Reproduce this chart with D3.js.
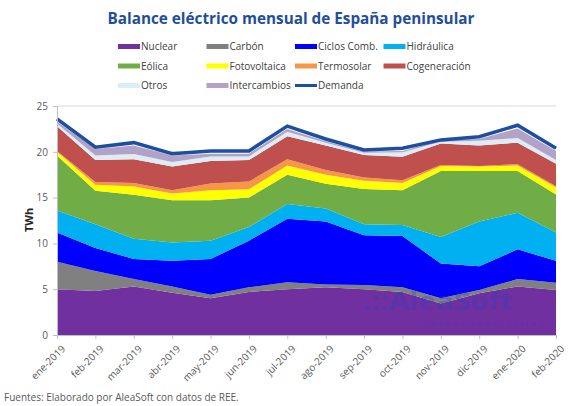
<html>
<head>
<meta charset="utf-8">
<script src="https://cdn.jsdelivr.net/npm/d3@7"></script>
<title>Balance eléctrico mensual</title>
<style>
  body { margin: 0; background: #fff; }
  text { font-family: "Open Sans", "Liberation Sans", sans-serif; }
</style>
</head>
<body>
<div class="viz"></div>
<script type="text/javascript">
// months on the x axis
var months = ["ene-2019", "feb-2019", "mar-2019", "abr-2019", "may-2019", "jun-2019", "jul-2019",
              "ago-2019", "sep-2019", "oct-2019", "nov-2019", "dic-2019", "ene-2020", "feb-2020"];

// monthly values, TWh
var nuclear      = [5.0, 4.8, 5.3, 4.6, 4.0, 4.7, 5.0, 5.2, 5.0, 4.7, 3.45, 4.55, 5.3, 4.9];
var carbon       = [3.0, 2.2, 0.8, 0.7, 0.4, 0.5, 0.75, 0.3, 0.45, 0.5, 0.55, 0.35, 0.8, 0.8];
var ciclos       = [3.2, 2.5, 2.2, 2.8, 3.9, 5.1, 6.95, 6.9, 5.45, 5.6, 3.8, 2.6, 3.25, 2.4];
var hidraulica   = [2.4, 2.6, 2.2, 2.0, 2.0, 1.5, 1.6, 1.4, 1.2, 1.2, 2.9, 4.9, 4.0, 3.1];
var eolica       = [6.0, 3.65, 4.8, 4.6, 4.4, 3.2, 3.2, 2.7, 3.85, 3.8, 7.2, 5.5, 4.55, 4.15];
var fotovoltaica = [0.4, 0.65, 0.9, 0.75, 1.1, 0.9, 1.0, 1.0, 0.9, 0.8, 0.55, 0.5, 0.6, 0.75];
var termosolar   = [0.1, 0.3, 0.4, 0.35, 0.75, 0.85, 0.7, 0.5, 0.35, 0.3, 0.1, 0.05, 0.15, 0.15];
var cogeneracion = [2.7, 2.4, 2.6, 2.6, 2.45, 2.35, 2.5, 2.7, 2.45, 2.55, 2.35, 2.25, 2.35, 2.45];
var otros        = [0.3, 0.5, 0.55, 0.5, 0.5, 0.4, 0.5, 0.3, 0.25, 0.5, 0.2, 0.5, 0.5, 0.4];
var intercambios = [0.2, 0.7, 0.95, 0.7, 0.3, 0.3, 0.3, 0.15, 0.1, 0.15, 0.15, 0.2, 1.05, 1.0];
var demanda      = [23.6, 20.5, 21.0, 19.8, 20.1, 20.1, 22.8, 21.4, 20.2, 20.4, 21.3, 21.65, 22.9, 20.4];

var yTicks = [0, 5, 10, 15, 20, 25];

var seriesNames = ["Nuclear", "Carbón", "Ciclos Comb.", "Hidráulica", "Eólica", "Fotovoltaica",
                   "Termosolar", "Cogeneración", "Otros", "Intercambios"];
var seriesData = [nuclear, carbon, ciclos, hidraulica, eolica, fotovoltaica,
                  termosolar, cogeneracion, otros, intercambios];
var colors = ["#7030a0", "#808080", "#0000ff", "#00b0f0", "#70ad47", "#ffff00",
              "#f79646", "#c0504d", "#dcedf5", "#b3a2c7"];
var demandColor = "#1c4f9f";

var vizWidth = 574, vizHeight = 406;
var plotLeft = 57, plotRight = 556, plotTop = 106, plotBottom = 335;

var svg = d3.select("div")
    .append("svg")
    .attr("width", vizWidth)
    .attr("height", vizHeight);

// build row objects for d3.stack
var rows = months.map(function(m, i) {
    var r = {month: m};
    seriesNames.forEach(function(s, j) { r[s] = seriesData[j][i]; });
    return r;
});

var stacked = d3.stack().keys(seriesNames)(rows);

var x = d3.scalePoint().domain(months).range([plotLeft, plotRight]);
var y = d3.scaleLinear().domain([0, 25]).range([plotBottom, plotTop]);

// grid
svg.append("g").selectAll("line")
    .data(yTicks.slice(1))
    .enter().append("line")
    .attr("x1", plotLeft).attr("x2", plotRight)
    .attr("y1", function(d) { return y(d); })
    .attr("y2", function(d) { return y(d); })
    .attr("stroke", "#d9d9d9");

var area = d3.area()
    .x(function(d) { return x(d.data.month); })
    .y0(function(d) { return y(d[0]); })
    .y1(function(d) { return y(d[1]); });

svg.append("g").selectAll("path")
    .data(stacked)
    .enter().append("path")
    .attr("d", area)
    .attr("fill", function(d, i) { return colors[i]; });

// watermark
var wm = svg.append("g").attr("opacity", 0.3);
wm.append("text")
    .attr("x", 363).attr("y", 310)
    .attr("font-size", 25).attr("font-weight", "bold")
    .attr("fill", "#2b3fc4")
    .attr("textLength", 150).attr("lengthAdjust", "spacingAndGlyphs")
    .text(".::AleaSoft");
wm.append("text")
    .attr("x", 424).attr("y", 327)
    .attr("font-size", 7.5)
    .attr("fill", "#2b3fc4")
    .attr("textLength", 120).attr("lengthAdjust", "spacing")
    .text("ENERGY FORECASTING");

// demand line
var line = d3.line()
    .x(function(d, i) { return x(months[i]); })
    .y(function(d) { return y(d); });

svg.append("path")
    .datum(demanda)
    .attr("d", line)
    .attr("fill", "none")
    .attr("stroke", demandColor)
    .attr("stroke-width", 3.5)
    .attr("stroke-linejoin", "miter");

// axes
var yAxis = svg.append("g")
    .attr("transform", "translate(" + plotLeft + ",0)")
    .call(d3.axisLeft(y).tickValues(yTicks).tickSize(4).tickPadding(5));
yAxis.select(".domain").attr("stroke", "#bfbfbf");
yAxis.selectAll(".tick line").attr("stroke", "#bfbfbf");
yAxis.selectAll(".tick text").attr("font-size", 10).attr("fill", "#595959")
    .attr("font-family", "'Open Sans', sans-serif");

var xAxis = svg.append("g")
    .attr("transform", "translate(0," + plotBottom + ")")
    .call(d3.axisBottom(x).tickSize(4).tickSizeOuter(0));
xAxis.select(".domain").attr("stroke", "#bfbfbf");
xAxis.selectAll(".tick line").attr("stroke", "#bfbfbf");
xAxis.selectAll(".tick text")
    .attr("font-size", 10)
    .attr("fill", "#595959")
    .attr("font-family", "'Open Sans', sans-serif")
    .attr("text-anchor", "end")
    .attr("x", 0).attr("y", 0).attr("dy", "0.35em")
    .attr("transform", "translate(6,12) rotate(-45)");

svg.append("text")
    .attr("transform", "translate(33,220) rotate(-90)")
    .attr("text-anchor", "middle")
    .attr("font-size", 11).attr("font-weight", "bold")
    .attr("fill", "#262626")
    .text("TWh");

// title
svg.append("text")
    .attr("x", 291).attr("y", 24)
    .attr("text-anchor", "middle")
    .attr("font-size", 16).attr("font-weight", "bold")
    .attr("fill", "#1f4e9c")
    .attr("textLength", 367).attr("lengthAdjust", "spacingAndGlyphs")
    .text("Balance eléctrico mensual de España peninsular");

// legend
var legendItems = seriesNames.concat(["Demanda"]);
var legend = svg.append("g").selectAll("g")
    .data(legendItems)
    .enter().append("g")
    .attr("transform", function(d, i) {
        return "translate(" + (118 + (i % 4) * 88.5) + "," + (46.5 + Math.floor(i / 4) * 19.5) + ")";
    });

legend.append("rect")
    .attr("x", 0).attr("y", function(d) { return d == "Demanda" ? -1.5 : -2.5; })
    .attr("width", 22)
    .attr("height", function(d) { return d == "Demanda" ? 3 : 5; })
    .attr("fill", function(d, i) { return i < colors.length ? colors[i] : demandColor; });

legend.append("text")
    .attr("x", 23).attr("y", 0).attr("dy", "0.35em")
    .attr("font-size", 10).attr("fill", "#404040")
    .text(function(d) { return d; });

// source
svg.append("text")
    .attr("x", 4).attr("y", 401)
    .attr("font-size", 10).attr("fill", "#595959")
    .text("Fuentes: Elaborado por AleaSoft con datos de REE.");
</script>
</body>
</html>
